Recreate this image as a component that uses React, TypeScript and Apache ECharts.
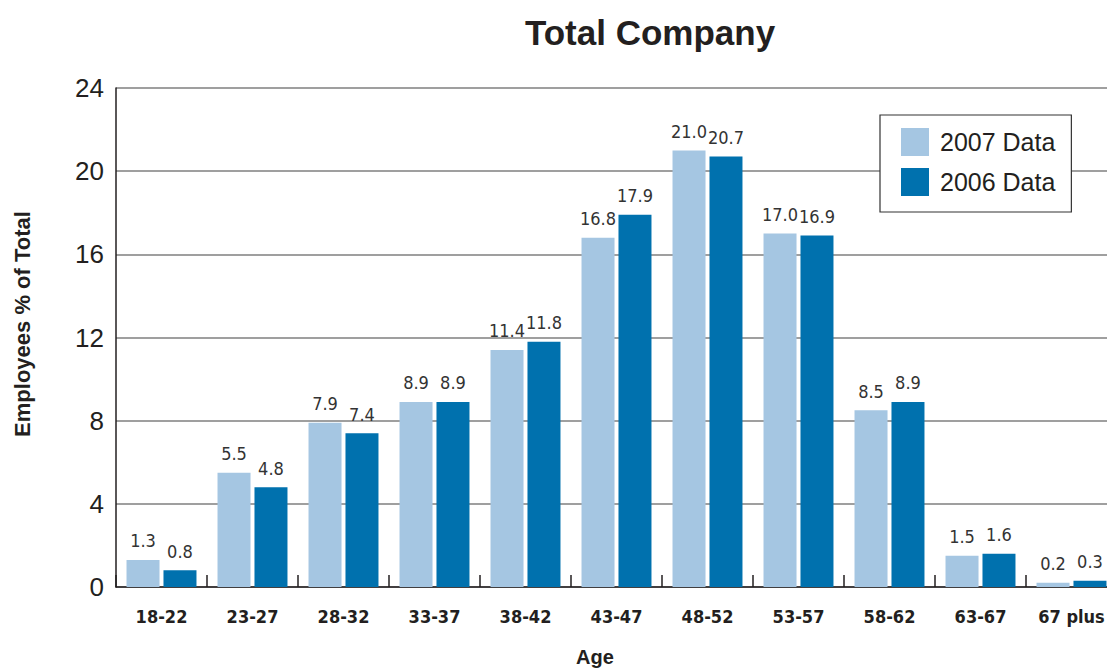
import React, { useEffect, useRef } from "react";
import * as echarts from "echarts";

const categories = ["18-22", "23-27", "28-32", "33-37", "38-42", "43-47", "48-52", "53-57", "58-62", "63-67", "67 plus"];
const data2007 = [1.3, 5.5, 7.9, 8.9, 11.4, 16.8, 21.0, 17.0, 8.5, 1.5, 0.2];
const data2006 = [0.8, 4.8, 7.4, 8.9, 11.8, 17.9, 20.7, 16.9, 8.9, 1.6, 0.3];
const seriesNames = ["2007 Data", "2006 Data"];
const titleText = "Total Company";
const yAxisName = "Employees % of Total";
const xAxisName = "Age";

const LIGHT = "#a5c6e2";
const DARK = "#0071ae";
const INK = "#231f20";
const NARROW = '"Liberation Sans Narrow", "Arial Narrow", "DejaVu Sans Condensed", sans-serif';
const SANS = '"Liberation Sans", Arial, Helvetica, sans-serif';

export default function App() {
  const ref = useRef<HTMLDivElement>(null);
  useEffect(() => {
    if (!ref.current) return;
    const chart = echarts.init(ref.current, undefined, { renderer: "svg" });
    const labelCfg = {
      show: true,
      position: "top" as const,
      distance: 10,
      fontFamily: NARROW,
      fontSize: 18,
      color: "#333",
      formatter: (p: any) => Number(p.value).toFixed(1),
    };
    chart.setOption({
      animation: false,
      backgroundColor: "#fff",
      graphic: [
        {
          type: "text",
          x: 650,
          y: 32,
          style: {
            text: titleText,
            align: "center",
            verticalAlign: "middle",
            font: `bold 35px ${SANS}`,
            fill: INK,
          },
        },
        {
          type: "text",
          x: 22,
          y: 324,
          rotation: Math.PI / 2,
          style: {
            text: yAxisName,
            align: "center",
            verticalAlign: "middle",
            font: `bold 22px ${SANS}`,
            fill: INK,
          },
        },
        {
          type: "text",
          x: 595,
          y: 657,
          style: {
            text: xAxisName,
            align: "center",
            verticalAlign: "middle",
            font: `bold 20px ${SANS}`,
            fill: INK,
          },
        },
      ],
      legend: {
        orient: "vertical",
        left: 880,
        top: 115,
        padding: [13, 16, 16, 21],
        itemWidth: 28,
        itemHeight: 28,
        itemGap: 12,
        icon: "rect",
        borderColor: "#333",
        borderWidth: 1.2,
        backgroundColor: "#fff",
        data: seriesNames,
        textStyle: {
          fontFamily: SANS,
          fontSize: 25,
          color: INK,
          padding: [0, 0, 0, 6],
        },
      },
      grid: {
        left: 116,
        width: 1001,
        top: 88,
        bottom: 84,
        containLabel: false,
        outerBoundsMode: "none",
      },
      xAxis: {
        type: "category",
        data: categories,
        axisLine: { show: true, lineStyle: { color: INK, width: 1.5 } },
        axisTick: { show: true, inside: true, length: 12, lineStyle: { color: INK, width: 1.5 } },
        axisLabel: {
          interval: 0,
          margin: 20,
          fontFamily: NARROW,
          fontWeight: "bold",
          fontSize: 18,
          color: INK,
        },
      },
      yAxis: {
        type: "value",
        min: 0,
        max: 24,
        interval: 4,
        axisLine: { show: true, lineStyle: { color: INK, width: 1.5 } },
        axisTick: { show: false },
        splitLine: { show: true, lineStyle: { color: "#7f7f7f", width: 1.5 } },
        axisLabel: { margin: 12, fontFamily: SANS, fontSize: 26, color: INK },
      },
      series: [
        {
          name: seriesNames[0],
          type: "bar",
          data: data2007,
          barWidth: 33,
          barGap: "12%",
          itemStyle: { color: LIGHT },
          label: labelCfg,
        },
        {
          name: seriesNames[1],
          type: "bar",
          data: data2006,
          barWidth: 33,
          barGap: "12%",
          itemStyle: { color: DARK },
          label: labelCfg,
        },
      ],
    });
    return () => chart.dispose();
  }, []);
  return (
    <div
      ref={ref}
      style={{ position: "fixed", left: 0, top: 0, width: 1107, height: 671 }}
    />
  );
}
